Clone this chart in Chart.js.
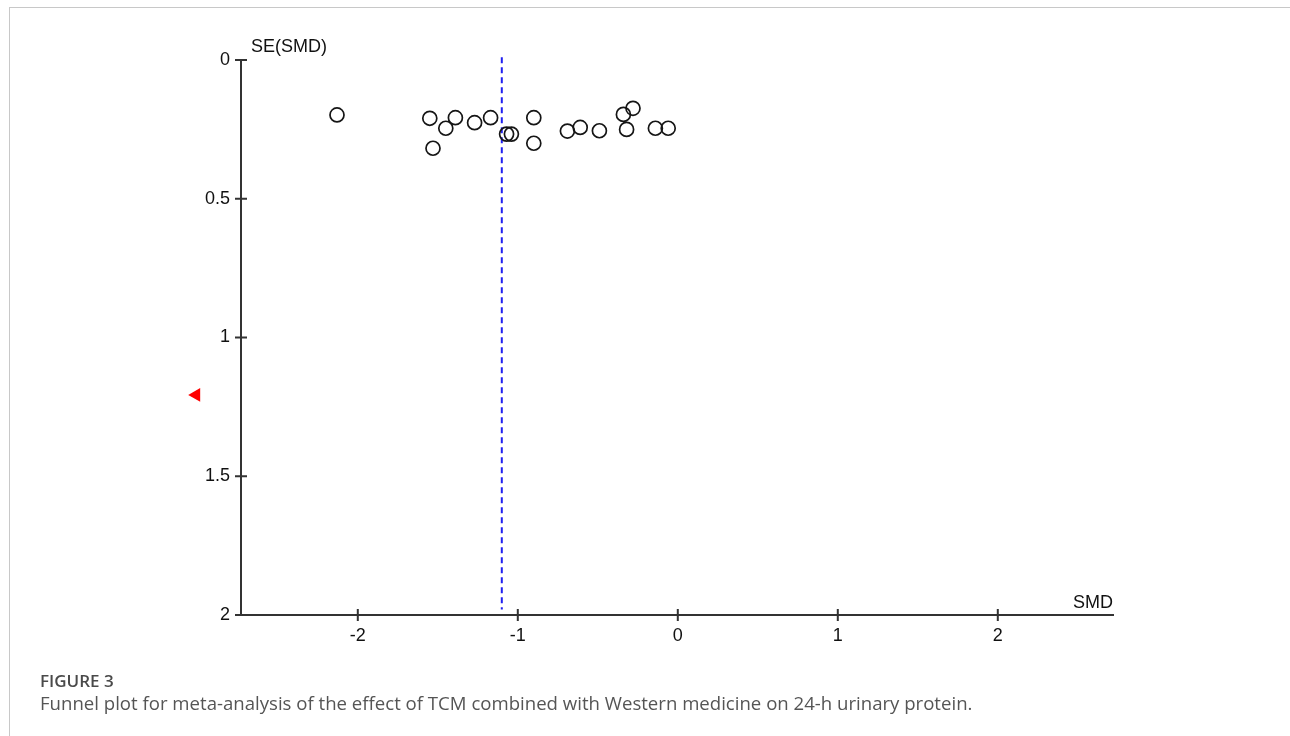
<!DOCTYPE html>
<html>

<head>
	<title>Funnel plot</title>
	<script src="https://cdn.jsdelivr.net/npm/chart.js@4.4.0/dist/chart.umd.min.js"></script>
	<style>
		body { margin: 0; background: #fff; }
		#frame { position: absolute; left: 9px; top: 7px; width: 1290px; height: 740px; border-left: 1px solid #c8c8c8; border-top: 1px solid #c8c8c8; }
		#wrap { position: absolute; left: 0; top: 0; width: 1290px; height: 736px; }
		.figlabel { position: absolute; left: 40px; top: 669px; font-family: "Open Sans", sans-serif; font-weight: 600; font-size: 17px; color: #4a4a4a; }
		.figcap { position: absolute; left: 40px; top: 690px; font-family: "Open Sans", sans-serif; font-size: 18.6px; color: #555; letter-spacing: 0px; }
	</style>
</head>

<body>
	<div id="frame"></div>
	<div id="wrap">
		<canvas id="myChart" width="1290" height="736"></canvas>
	</div>
	<div class="figlabel">FIGURE 3</div>
	<div class="figcap">Funnel plot for meta-analysis of the effect of TCM combined with Western medicine on 24-h urinary protein.</div>
	<script>
		// study effects (SMD) and their standard errors
		var smd = [-2.13, -1.55, -1.45, -1.39, -1.53, -1.27, -1.17, -1.07, -1.04, -0.90, -0.90,
			-0.69, -0.61, -0.49, -0.34, -0.28, -0.32, -0.14, -0.06];
		var se = [0.198, 0.210, 0.246, 0.208, 0.318, 0.226, 0.208, 0.267, 0.267, 0.208, 0.300,
			0.256, 0.243, 0.255, 0.196, 0.174, 0.250, 0.246, 0.246];
		var pooled = -1.10;
		var pooledSE = [-0.01, 1.98];
		var filledSMD = [-3.01];
		var filledSE = [1.207];
		var xTicks = [-2, -1, 0, 1, 2];
		var yTicks = [0, 0.5, 1, 1.5, 2];

		var points = [];
		for (i = 0; i < smd.length; i++) {
			points.push({ x: smd[i], y: se[i] });
		}
		var filled = filledSMD.map(function (v, i) { return { x: v, y: filledSE[i] } });
		var lineData = pooledSE.map(function (v) { return { x: pooled, y: v } });

		// ticks drawn across the axis line, plus axis names
		var axisDecor = {
			id: 'axisDecor',
			afterDatasetsDraw: function (chart) {
				// the filled study lies outside the plot area, chart.js skips it there
				chart.getDatasetMeta(2).data.forEach(function (el) { el.draw(chart.ctx); });
			},
			afterDraw: function (chart) {
				var c = chart.ctx, a = chart.chartArea;
				var xs = chart.scales.x, ys = chart.scales.y;
				c.save();
				c.strokeStyle = '#333';
				c.lineWidth = 2;
				c.beginPath();
				xTicks.forEach(function (t) {
					var px = xs.getPixelForValue(t);
					c.moveTo(px, a.bottom - 6);
					c.lineTo(px, a.bottom + 6);
				});
				yTicks.forEach(function (t) {
					var py = ys.getPixelForValue(t);
					c.moveTo(a.left - 6, py);
					c.lineTo(a.left + 6, py);
				});
				c.stroke();
				c.fillStyle = '#111';
				c.font = '18px "Liberation Sans", Arial, sans-serif';
				c.textBaseline = 'middle';
				c.textAlign = 'left';
				c.fillText('SE(SMD)', a.left + 10, a.top - 13);
				c.textAlign = 'right';
				c.fillText('SMD', a.right, a.bottom - 12);
				c.restore();
			}
		};

		var tickFont = { family: '"Liberation Sans", Arial, sans-serif', size: 18 };

		var ctx = document.getElementById("myChart").getContext('2d');
		var myChart = new Chart(ctx, {
			type: 'scatter',
			data: {
				datasets: [{
					label: 'Studies',
					data: points,
					pointStyle: 'circle',
					pointRadius: 7,
					pointBorderWidth: 1.7,
					borderColor: '#151515',
					backgroundColor: 'rgba(0,0,0,0)'
				}, {
					label: 'Pooled',
					type: 'line',
					data: lineData,
					borderColor: '#2020f0',
					borderWidth: 2,
					borderDash: [6, 4],
					pointRadius: 0,
					fill: false,
					clip: false
				}, {
					// imputed study, left of the y axis
					label: 'Filled',
					type: 'bubble',
					data: filled,
					pointStyle: 'triangle',
					rotation: -90,
					radius: 8,
					borderWidth: 0,
					borderColor: '#f00',
					backgroundColor: '#f00',
					clip: false
				}]
			},
			options: {
				responsive: false,
				animation: false,
				layout: { padding: { left: 0, top: 60, right: 177, bottom: 81 } },
				plugins: { legend: { display: false }, tooltip: { enabled: false } },
				scales: {
					x: {
						type: 'linear',
						min: -2.73,
						max: 2.72,
						afterBuildTicks: function (s) { s.ticks = xTicks.map(function (v) { return { value: v } }); },
						afterFit: function (s) { s.height = 40; },
						grid: { display: false, drawTicks: false },
						border: { display: true, color: '#333', width: 2 },
						ticks: { padding: 10, color: '#111', font: tickFont, callback: function (v) { return String(v); } }
					},
					y: {
						type: 'linear',
						reverse: true,
						min: 0,
						max: 2,
						afterBuildTicks: function (s) { s.ticks = yTicks.map(function (v) { return { value: v } }); },
						afterFit: function (s) { s.width = 241; },
						grid: { display: false, drawTicks: false },
						border: { display: true, color: '#333', width: 2 },
						ticks: { padding: 11, color: '#111', font: tickFont, callback: function (v) { return String(v); } }
					}
				}
			},
			plugins: [axisDecor]
		});
	</script>
</body>

</html>
